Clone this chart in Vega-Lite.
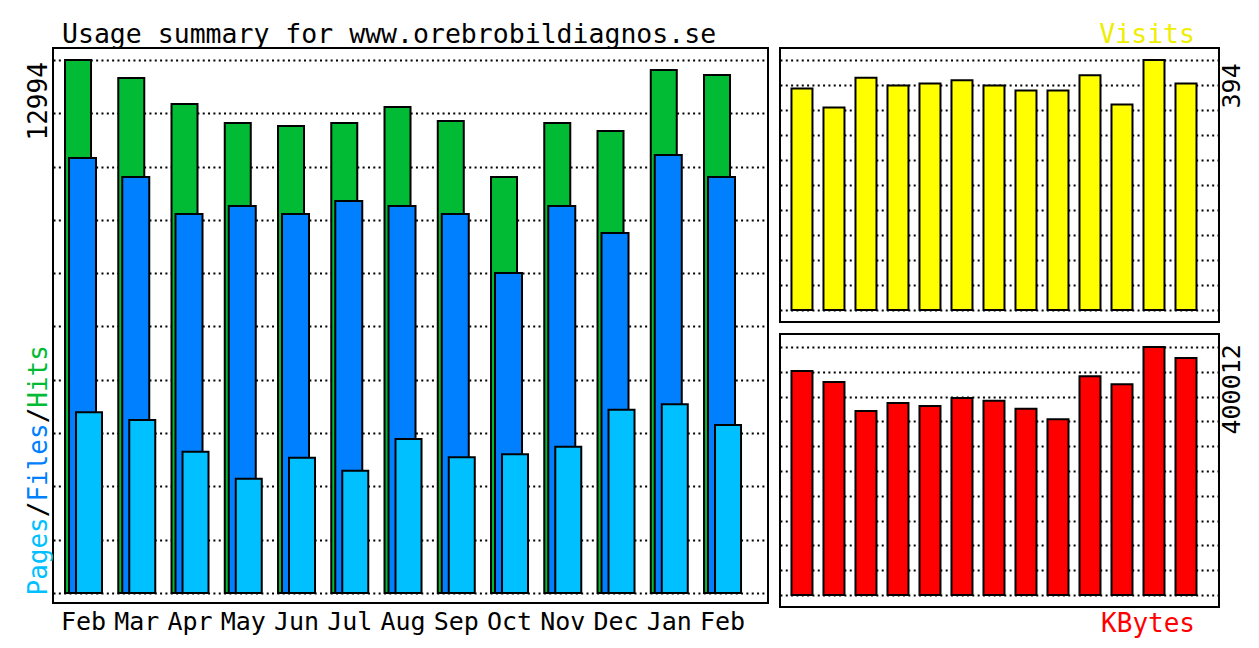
{
  "$schema": "https://vega.github.io/schema/vega-lite/v6.json",
  "background": "white",
  "padding": {"left": 23, "top": 20, "right": 5, "bottom": 5},
  "spacing": 10,
  "config": {
    "view": {"stroke": "#000", "strokeWidth": 2, "fill": "white"},
    "font": "DejaVu Sans Mono",
    "title": {"font": "DejaVu Sans Mono", "fontSize": 26, "fontWeight": "normal"},
    "axis": {"labelFont": "DejaVu Sans Mono", "labelFontSize": 25, "labelColor": "#000"}
  },
  "data": {
    "values": [
      {"month": "Feb", "hits": 12994, "files": 10605, "pages": 4405, "visits": 349, "kbytes": 361301},
      {"month": "Mar", "hits": 12555, "files": 10142, "pages": 4218, "visits": 319, "kbytes": 343558},
      {"month": "Apr", "hits": 11921, "files": 9240, "pages": 3445, "visits": 366, "kbytes": 296783},
      {"month": "May", "hits": 11458, "files": 9435, "pages": 2787, "visits": 354, "kbytes": 309687},
      {"month": "Jun", "hits": 11385, "files": 9240, "pages": 3299, "visits": 357, "kbytes": 304848},
      {"month": "Jul", "hits": 11458, "files": 9557, "pages": 2982, "visits": 362, "kbytes": 317751},
      {"month": "Aug", "hits": 11848, "files": 9435, "pages": 3754, "visits": 354, "kbytes": 313396},
      {"month": "Sep", "hits": 11507, "files": 9240, "pages": 3308, "visits": 346, "kbytes": 300493},
      {"month": "Oct", "hits": 10142, "files": 7801, "pages": 3381, "visits": 346, "kbytes": 283397},
      {"month": "Nov", "hits": 11458, "files": 9435, "pages": 3567, "visits": 370, "kbytes": 352751},
      {"month": "Dec", "hits": 11263, "files": 8776, "pages": 4469, "visits": 324, "kbytes": 339848},
      {"month": "Jan", "hits": 12750, "files": 10678, "pages": 4600, "visits": 394, "kbytes": 400012},
      {"month": "Feb ", "hits": 12628, "files": 10142, "pages": 4096, "visits": 357, "kbytes": 382270}
    ]
  },
  "hconcat": [
    {
      "width": 715,
      "height": 555,
      "title": {"text": "Usage summary for www.orebrobildiagnos.se", "anchor": "start", "frame": "group", "dx": 9, "offset": 0, "fontSize": 26.5, "color": "#000"},
      "encoding": {
        "x": {
          "field": "month", "type": "nominal", "sort": null,
          "scale": {"paddingInner": 0, "paddingOuter": 0.2136, "align": 0.171},
          "axis": {"title": null, "labelAngle": 0, "ticks": false, "domain": false, "grid": false, "labelPadding": 6, "labelExpr": "trim(datum.value)"}
        }
      },
      "layer": [
        {
          "mark": {"type": "bar", "width": 26, "xOffset": -5.5, "fill": "#00bb33", "stroke": "#000", "strokeWidth": 2},
          "encoding": {
            "y": {
              "field": "hits", "type": "quantitative",
              "scale": {"domain": [-243.8, 13286.5], "nice": false},
              "axis": {
                "title": null, "orient": "left", "tickCount": 100,
                "values": [0, 1299.4, 2598.8, 3898.2, 5197.6, 6497, 7796.4, 9095.8, 10395.2, 11694.6, 12994, 11044, -48.8, 1858.9, 2240.4, 4148.1, 4529.6],
                "grid": true, "gridDash": [2, 3.33], "gridColor": "#000", "gridWidth": 2,
                "gridOpacity": {"condition": {"test": "indexof([11044, -48.8, 1858.9, 2240.4, 4148.1, 4529.6], datum.value) >= 0", "value": 0}, "value": 1},
                "domain": false, "ticks": false, "tickSize": 0,
                "labelFontSize": 26,
                "labelAngle": 270, "labelAlign": "left", "labelBaseline": "alphabetic", "labelPadding": 7,
                "labelOverlap": false, "labelBound": false, "labelFlush": false,
                "labelExpr": "datum.value == 11044 ? '12994' : datum.value == -48.8 ? 'Pages' : datum.value == 1858.9 ? '/' : datum.value == 2240.4 ? 'Files' : datum.value == 4148.1 ? '/' : datum.value == 4529.6 ? 'Hits' : ''",
                "labelColor": {"condition": [
                  {"test": "datum.value == -48.8", "value": "#00c0ff"},
                  {"test": "datum.value == 2240.4", "value": "#0080ff"},
                  {"test": "datum.value == 4529.6", "value": "#00bb33"}
                ], "value": "#000"}
              }
            }
          }
        },
        {
          "mark": {"type": "bar", "width": 27, "xOffset": -1, "fill": "#0080ff", "stroke": "#000", "strokeWidth": 2},
          "encoding": {
            "y": {"field": "files", "type": "quantitative", "scale": {"domain": [-243.8, 13286.5], "nice": false}}
          }
        },
        {
          "mark": {"type": "bar", "width": 26, "xOffset": 5.5, "fill": "#00c0ff", "stroke": "#000", "strokeWidth": 2},
          "encoding": {
            "y": {"field": "pages", "type": "quantitative", "scale": {"domain": [-243.8, 13286.5], "nice": false}}
          }
        }
      ]
    },
    {
      "spacing": 10,
      "vconcat": [
        {
          "width": 439,
          "height": 274,
          "title": {"text": "Visits", "anchor": "end", "frame": "group", "dx": -24, "offset": 0, "fontSize": 26.5, "color": "#eeee00"},
          "mark": {"type": "bar", "width": 21, "fill": "#ffff00", "stroke": "#000", "strokeWidth": 2},
          "encoding": {
            "x": {"field": "month", "type": "nominal", "sort": null, "scale": {"paddingInner": 0, "paddingOuter": 0.359, "align": 0.26}, "axis": null},
            "y": {
              "field": "visits", "type": "quantitative",
              "scale": {"domain": [-18.91, 412.91], "nice": false},
              "axis": {
                "title": null, "orient": "right", "tickCount": 100,
                "values": [0, 39.4, 78.8, 118.2, 157.6, 197, 236.4, 275.8, 315.2, 354.6, 394, 318.4],
                "grid": true, "gridDash": [2, 3.33], "gridColor": "#000", "gridWidth": 2,
                "gridOpacity": {"condition": {"test": "datum.value == 318.4", "value": 0}, "value": 1},
                "domain": false, "ticks": false, "tickSize": 0,
                "labelAngle": 270, "labelAlign": "left", "labelBaseline": "top", "labelPadding": 0,
                "labelOverlap": false, "labelBound": false, "labelFlush": false,
                "labelExpr": "datum.value == 318.4 ? '394' : ''"
              }
            }
          }
        },
        {
          "width": 439,
          "height": 273,
          "title": {"text": "KBytes", "orient": "bottom", "anchor": "end", "frame": "group", "dx": -24, "offset": 4, "baseline": "top", "color": "#ff0000"},
          "mark": {"type": "bar", "width": 21, "fill": "#ff0000", "stroke": "#000", "strokeWidth": 2},
          "encoding": {
            "x": {"field": "month", "type": "nominal", "sort": null, "scale": {"paddingInner": 0, "paddingOuter": 0.359, "align": 0.26}, "axis": null},
            "y": {
              "field": "kbytes", "type": "quantitative",
              "scale": {"domain": [-19355.4, 420980.4], "nice": false},
              "axis": {
                "title": null, "orient": "right", "tickCount": 100,
                "values": [0, 40001.2, 80002.4, 120003.6, 160004.8, 200006, 240007.2, 280008.4, 320009.6, 360010.8, 400012, 259685],
                "grid": true, "gridDash": [2, 3.33], "gridColor": "#000", "gridWidth": 2,
                "gridOpacity": {"condition": {"test": "datum.value == 259685", "value": 0}, "value": 1},
                "domain": false, "ticks": false, "tickSize": 0,
                "labelAngle": 270, "labelAlign": "left", "labelBaseline": "top", "labelPadding": 0,
                "labelOverlap": false, "labelBound": false, "labelFlush": false,
                "labelExpr": "datum.value == 259685 ? '400012' : ''"
              }
            }
          }
        }
      ]
    }
  ]
}
